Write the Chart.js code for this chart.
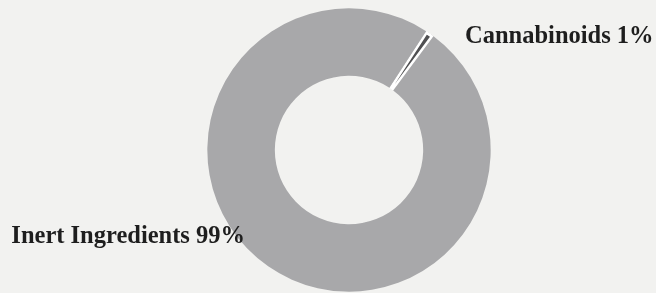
<!DOCTYPE html>
<html>
<head>
<meta charset="utf-8">
<script src="https://cdn.jsdelivr.net/npm/chart.js@4/dist/chart.umd.min.js"></script>
<style>
  html, body { margin: 0; padding: 0; background: #f2f2f0; }
  #wrap { width: 656px; height: 293px; position: relative; }
</style>
</head>
<body>
<div id="wrap"><canvas id="donut"></canvas></div>
<script>
const labels = ["Cannabinoids", "Inert Ingredients"];
const values = [1, 99];
const colors = ["#505052", "#a8a8aa"];

// labels next to the ring, offsets from the centre
const labelOffsets = [
    { dx: 116, dy: -107, align: "left" },
    { dx: -104, dy: 93, align: "right" }
];

const sideLabels = {
    id: "sideLabels",
    afterDraw(chart) {
        const ctx = chart.ctx;
        const arc = chart.getDatasetMeta(0).data[0];
        ctx.save();
        ctx.font = "bold 24.5px 'Liberation Serif', serif";
        ctx.fillStyle = "#1e1e1e";
        ctx.textBaseline = "alphabetic";
        labels.forEach((name, i) => {
            const o = labelOffsets[i];
            ctx.textAlign = o.align;
            ctx.fillText(name + " " + values[i] + "%", arc.x + o.dx, arc.y + o.dy);
        });
        ctx.restore();
    }
};

new Chart(document.getElementById("donut"), {
    type: "doughnut",
    data: {
        labels: labels,
        datasets: [{
            data: values,
            backgroundColor: colors,
            borderColor: "#ffffff",
            borderWidth: [2.5, 0],
            borderAlign: "inner"
        }]
    },
    options: {
        responsive: true,
        maintainAspectRatio: false,
        animation: false,
        cutout: "52%",
        rotation: 33,
        layout: { padding: { left: 42, right: 0, top: 8, bottom: 1 } },
        plugins: {
            legend: { display: false },
            tooltip: { enabled: false }
        }
    },
    plugins: [sideLabels]
});
</script>
</body>
</html>
